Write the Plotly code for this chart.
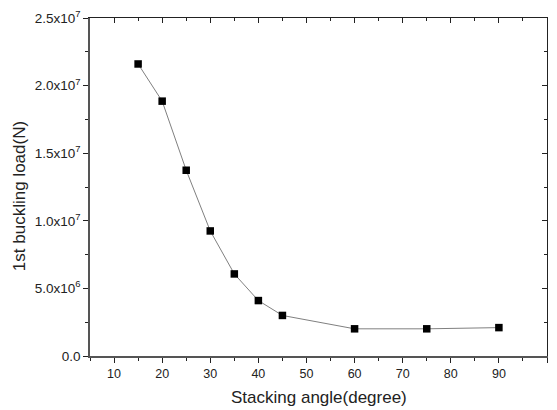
import plotly.graph_objects as go

angles = [15, 20, 25, 30, 35, 40, 45, 60, 75, 90]
loads = [2.16e7, 1.885e7, 1.374e7, 9.25e6, 6.07e6, 4.1e6, 3.0e6, 2.01e6, 2.01e6, 2.1e6]

x_ticks = [10, 20, 30, 40, 50, 60, 70, 80, 90, 100]
x_minor = [5, 15, 25, 35, 45, 55, 65, 75, 85, 95]
y_tickvals = [0, 5e6, 1e7, 1.5e7, 2e7, 2.5e7]
y_ticktext = ["0.0", "5.0x10<sup>6</sup>", "1.0x10<sup>7</sup>", "1.5x10<sup>7</sup>",
              "2.0x10<sup>7</sup>", "2.5x10<sup>7</sup>"]
y_minor = [2.5e6, 7.5e6, 1.25e7, 1.75e7, 2.25e7]

font = dict(family="Liberation Sans, Arial, sans-serif", color="#222")

fig = go.Figure()
fig.add_trace(go.Scatter(
    x=angles, y=loads, mode="lines+markers",
    line=dict(color="#808080", width=1),
    marker=dict(symbol="square", size=7.5, color="black"),
    showlegend=False,
))

fig.update_layout(
    width=549, height=402,
    margin=dict(l=82, r=10, t=10, b=54, autoexpand=False),
    plot_bgcolor="white", paper_bgcolor="white",
    font=font,
    xaxis=dict(
        range=[5, 100], tickvals=x_ticks, ticks="outside", ticklen=5, tickwidth=1,
        tickcolor="#222", showline=True, linecolor="#555", linewidth=1.5,
        showgrid=False, zeroline=False, tickfont=dict(size=12.5), automargin=False,
        minor=dict(tickvals=x_minor, ticks="outside", ticklen=3, tickcolor="#222"),
    ),
    yaxis=dict(
        range=[0, 2.5e7], tickvals=y_tickvals, ticktext=y_ticktext,
        ticks="outside", ticklen=5, tickwidth=1, tickcolor="#222",
        showline=True, linecolor="#555", linewidth=1.5,
        showgrid=False, zeroline=False, tickfont=dict(size=13.5), automargin=False,
        minor=dict(tickvals=y_minor, ticks="outside", ticklen=3, tickcolor="#222"),
    ),
    xaxis2=dict(
        overlaying="x", side="top", range=[5, 100], tickvals=x_ticks,
        ticks="inside", ticklen=5, tickcolor="#222", showticklabels=False,
        showline=True, linecolor="#222", linewidth=1, showgrid=False, zeroline=False,
        minor=dict(tickvals=x_minor, ticks="inside", ticklen=3, tickcolor="#222"),
    ),
    yaxis2=dict(
        overlaying="y", side="right", range=[0, 2.5e7], tickvals=y_tickvals,
        ticks="inside", ticklen=5, tickcolor="#222", showticklabels=False,
        showline=True, linecolor="#222", linewidth=1, showgrid=False, zeroline=False,
        minor=dict(tickvals=y_minor, ticks="inside", ticklen=3, tickcolor="#222"),
    ),
    annotations=[
        dict(text="Stacking angle(degree)", xref="paper", yref="paper", x=0.5, y=0,
             xanchor="center", yanchor="middle", yshift=-41, showarrow=False,
             font=dict(size=17)),
        dict(text="1st buckling load(N)", xref="paper", yref="paper", x=0, y=0.473,
             xanchor="center", yanchor="middle", xshift=-71, textangle=-90,
             showarrow=False, font=dict(size=17)),
    ],
)
# invisible trace to activate the mirrored axes
fig.add_trace(go.Scatter(x=[None], y=[None], xaxis="x2", yaxis="y2", showlegend=False,
                         hoverinfo="skip"))

fig.write_html("out.html")
